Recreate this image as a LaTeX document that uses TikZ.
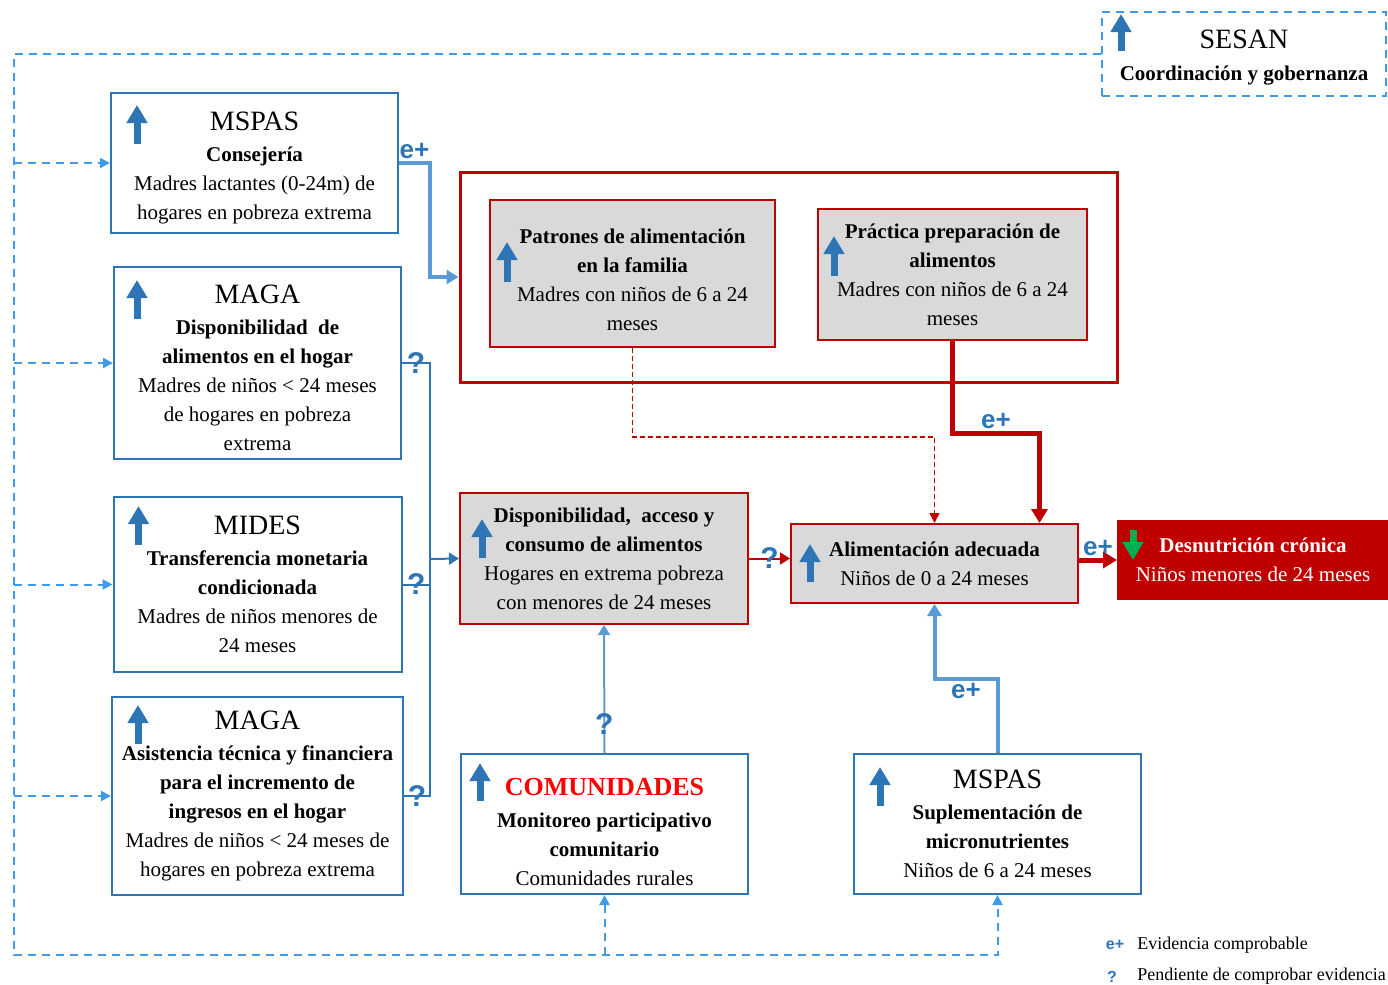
\documentclass[tikz,border=0pt]{standalone}
\usepackage{fontspec}
\setmainfont{Liberation Serif}
\newfontfamily\lblfont{Liberation Sans}
\usetikzlibrary{calc,positioning,arrows.meta}
\definecolor{iconblue}{HTML}{2E75B6}
\definecolor{linkblue}{HTML}{5B9BD5}
\definecolor{fbblue}{HTML}{3D9BE9}
\definecolor{darkred}{HTML}{C00000}
\definecolor{boxgray}{HTML}{D9D9D9}
\definecolor{okgreen}{HTML}{00B050}
\newcommand{\boxtitle}[1]{{\fontsize{14}{17}\selectfont #1}}
\newcommand{\topgap}[1]{\rule{0pt}{#1}}
\tikzset{
  actor/.style={draw=iconblue, line width=1pt, align=center, inner sep=0pt,
    font=\fontsize{10.5}{14.5}\selectfont},
  effect/.style={actor, draw=darkred, fill=boxgray},
  upicon/.style={draw=iconblue, line width=3.5pt, -{Triangle[width=10pt,length=9pt]}},
  downicon/.style={draw=okgreen, line width=3.5pt, -{Triangle[width=10pt,length=9pt]}},
  feedback/.style={draw=fbblue, line width=1pt, dash pattern=on 4pt off 3pt,
    -{Triangle[width=5pt,length=5pt]}},
  evblue/.style={draw=linkblue, line width=2pt, -{Triangle[width=7pt,length=6pt]}},
  weakblue/.style={draw=iconblue, line width=1pt},
  redstrong/.style={draw=darkred, line width=2.5pt, -{Triangle[width=8pt,length=7pt]}},
  redthin/.style={draw=darkred, line width=1pt, -{Triangle[width=6pt,length=5pt]}},
  reddash/.style={draw=darkred, line width=0.8pt, dash pattern=on 2.5pt off 1.5pt,
    -{Triangle[width=5pt,length=5pt]}},
  evlabel/.style={font=\lblfont\bfseries\fontsize{13}{13}\selectfont, text=iconblue, inner sep=1pt},
  qlabel/.style={font=\lblfont\bfseries\fontsize{15}{15}\selectfont, text=iconblue, inner sep=0pt},
  leglabel/.style={font=\lblfont\bfseries\fontsize{8}{8}\selectfont, text=iconblue, inner sep=0pt},
  legtext/.style={anchor=west, inner sep=0pt, font=\fontsize{9}{11}\selectfont}
}

\begin{document}
\begin{tikzpicture}[x=0.5pt, y=-0.5pt]
\useasboundingbox (0,0) rectangle (1388,985);

\node[actor, draw=fbblue, dash pattern=on 4pt off 3pt, minimum width=142pt, minimum height=42pt] (sesan) at (1244,54)
  {\topgap{13.3pt}\boxtitle{SESAN}\\[1.5pt] \textbf{Coordinación y gobernanza}};

\node[actor, minimum width=143.5pt, minimum height=70pt] (ms1) at (254.5,163)
  {\topgap{14.3pt}\boxtitle{MSPAS}\\[1pt] \textbf{Consejería}\\ Madres lactantes (0-24m) de\\ hogares en pobreza extrema};
\node[actor, minimum width=143.5pt, minimum height=96pt] (mg1) at (257.5,363)
  {\topgap{14.3pt}\boxtitle{MAGA}\\[1pt] \textbf{Disponibilidad\ \ de}\\ \textbf{alimentos en el hogar}\\ Madres de niños < 24 meses\\ de hogares en pobreza\\ extrema};
\node[actor, minimum width=144pt, minimum height=87.5pt, below=18pt of mg1] (md)
  {\boxtitle{MIDES}\\[1pt] \textbf{Transferencia monetaria}\\ \textbf{condicionada}\\ Madres de niños menores de\\ 24 meses};
\node[actor, minimum width=145.5pt, minimum height=99pt, below=11.5pt of md] (mg2)
  {\boxtitle{MAGA}\\[1pt] \textbf{Asistencia técnica y financiera}\\ \textbf{para el incremento de}\\ \textbf{ingresos en el hogar}\\ Madres de niños < 24 meses de\\ hogares en pobreza extrema};

\node[draw=darkred, line width=1.5pt, minimum width=328.5pt, minimum height=105pt] (frame) at (788.5,277) {};
\node[effect, minimum width=142.5pt, minimum height=73.5pt] (pat) at (632.5,273.5)
  {\topgap{13.4pt}\textbf{Patrones de alimentación}\\ \textbf{en la familia}\\ Madres con niños de 6 a 24\\ meses};
\node[effect, minimum width=134.5pt, minimum height=65.5pt] (prac) at (952.5,274.5)
  {\textbf{Práctica preparación de}\\ \textbf{alimentos}\\ Madres con niños de 6 a 24\\ meses};

\node[effect, minimum width=144pt, minimum height=65.5pt] (disp) at (604,558.5)
  {\textbf{Disponibilidad,\ \ acceso y}\\ \textbf{consumo de alimentos}\\ Hogares en extrema pobreza\\ con menores de 24 meses};
\node[effect, minimum width=143.5pt, minimum height=39.5pt] (alim) at (934.5,563.5)
  {\textbf{Alimentación adecuada}\\ Niños de 0 a 24 meses};
\node[actor, draw=darkred, fill=darkred, text=white, minimum width=135pt, minimum height=39pt] (desn) at (1253,560)
  {\textbf{Desnutrición crónica}\\ Niños menores de 24 meses};

\node[actor, minimum width=143.5pt, minimum height=70pt] (com) at (604.5,824)
  {\topgap{16.8pt}{\color{red}\bfseries\fontsize{13}{16}\selectfont COMUNIDADES}\\[1.5pt] \textbf{Monitoreo participativo}\\ \textbf{comunitario}\\ Comunidades rurales};
\node[actor, minimum width=143.5pt, minimum height=70pt] (ms2) at (997.5,824)
  {\boxtitle{MSPAS}\\[1pt] \textbf{Suplementación de}\\ \textbf{micronutrientes}\\ Niños de 6 a 24 meses};

\draw[upicon] ([shift={(20,40)}]sesan.north west) -- ++(0,-37);
\draw[upicon] ([shift={(27,52)}]ms1.north west) -- ++(0,-39);
\draw[upicon] ([shift={(24,53)}]mg1.north west) -- ++(0,-39);
\draw[upicon] ([shift={(26,49)}]md.north west) -- ++(0,-39);
\draw[upicon] ([shift={(27,48)}]mg2.north west) -- ++(0,-39);
\draw[upicon] ([shift={(18,83)}]pat.north west) -- ++(0,-40);
\draw[upicon] ([shift={(17,68)}]prac.north west) -- ++(0,-40);
\draw[upicon] ([shift={(23,66)}]disp.north west) -- ++(0,-39);
\draw[upicon] ([shift={(20,59)}]alim.north west) -- ++(0,-38);
\draw[downicon] ([shift={(16,10)}]desn.north west) -- ++(0,30);
\draw[upicon] ([shift={(20,48)}]com.north west) -- ++(0,-38);
\draw[upicon] ([shift={(27,53)}]ms2.north west) -- ++(0,-39);

\coordinate (rail) at (14,955);
\coordinate (bus) at (430,559);
\draw[feedback] (sesan.west) -| (rail) -| (ms2.south);
\draw[feedback] (ms1.west -| rail) -- (ms1.west);
\draw[feedback] (mg1.west -| rail) -- (mg1.west);
\draw[feedback] (md.west -| rail) -- (md.west);
\draw[feedback] (mg2.west -| rail) -- (mg2.west);
\draw[feedback] (com.south |- rail) -- (com.south);

\draw[evblue] (ms1.east) -- node[evlabel, above]{e+} (ms1.east -| bus) |- (frame.west);
\draw[weakblue] (mg1.east) -- node[qlabel]{?} (mg1.east -| bus) |- (mg2.east);
\draw[weakblue] (mg2.east) -- node[qlabel]{?} (mg2.east -| bus);
\draw[weakblue] (md.east) -- node[qlabel]{?} (md.east -| bus);
\draw[weakblue, -{Triangle[width=6pt,length=5pt]}] (bus) -- (disp.west);

\draw[reddash] (pat.south) -- ++(0,89) -| (alim.north);
\draw[redstrong] (prac.south) -- ++(0,92) -| node[pos=0.25, evlabel, above]{e+} ($(alim.north)+(105,0)$);
\draw[redthin] (disp.east) -- node[qlabel]{?} (disp.east -| alim.west);
\draw[redstrong] (alim.east |- desn.west) -- node[evlabel, above]{e+} (desn.west);

\draw[draw=linkblue, line width=1pt, -{Triangle[width=6pt,length=5pt]}] (com.north) -- node[pos=0.23, qlabel]{?} (disp.south);
\draw[evblue] (ms2.north) -- ++(0,-74) -| node[pos=0.25, evlabel, below]{e+} (alim.south);

\node[leglabel] (lege) at (1115,945) {e+};
\node[legtext] (legetext) at (1137,945) {Evidencia comprobable};
\node[leglabel] (legq) at (1112,977) {?};
\node[legtext] (legqtext) at (1137,976) {Pendiente de comprobar evidencia};
\end{tikzpicture}
\end{document}
